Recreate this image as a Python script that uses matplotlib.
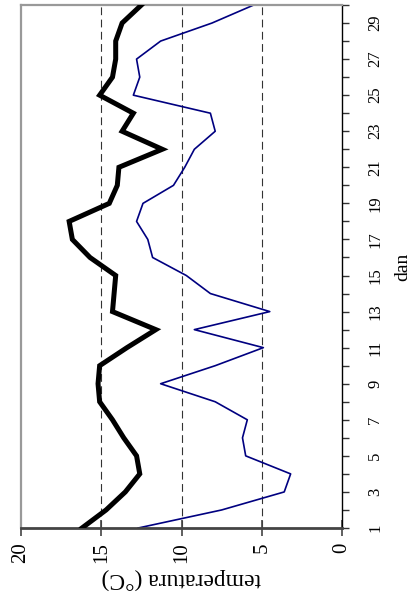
import numpy as np
import matplotlib
matplotlib.use('Agg')
from matplotlib import pyplot as plt

plt.rcParams['font.family'] = ['Liberation Serif', 'DejaVu Serif']

# podaci po danima
dan = list(range(1, 31))
t_crna = [16.2, 14.7, 13.5, 12.6, 12.8, 13.6, 14.3, 15.1, 15.2, 15.1,
          13.4, 11.6, 14.3, 14.2, 14.1, 15.7, 16.8, 17.0, 14.5, 14.0,
          13.9, 11.2, 13.7, 13.0, 15.1, 14.3, 14.1, 14.1, 13.7, 12.5]
t_plava = [12.7, 7.5, 3.6, 3.2, 6.0, 6.2, 5.9, 7.9, 11.3, 7.9,
           4.9, 9.2, 4.5, 8.2, 9.7, 11.8, 12.1, 12.8, 12.4, 10.5,
           9.8, 9.2, 7.9, 8.2, 13.0, 12.6, 12.8, 11.3, 8.1, 5.5]
temp_ticks = [0, 5, 10, 15, 20]
granice = [5, 10, 15]

fig = plt.figure(figsize=(4.15, 5.98), dpi=100)
ax = fig.add_axes([21 / 415, 70 / 598, 321 / 415, 523 / 598])

# chart is drawn turned on its side: temperature horizontal, days vertical
for g in granice:
    ax.axvline(g, color='#333333', lw=0.8, ls=(0, (7, 4)), zorder=1)

ax.plot(t_plava, dan, color='#000080', lw=1.2, zorder=2)
ax.plot(t_crna, dan, color='black', lw=3.6, solid_joinstyle='miter', zorder=3)

ax.set_xlim(20, 0)
ax.set_ylim(1, 30)

ax.set_xticks(temp_ticks)
ax.set_xticklabels([str(t) for t in temp_ticks], rotation=90, fontsize=15)
ax.tick_params(axis='x', direction='inout', length=11, width=1.2,
               color='#444444', pad=5)

ax.yaxis.tick_right()
ax.yaxis.set_label_position('right')
ax.set_yticks(dan)
ax.set_yticklabels([str(d) if d % 2 == 1 else '' for d in dan],
                   rotation=90, va='center', fontsize=12)
ax.tick_params(axis='y', direction='out', length=5, width=1.0,
               color='#333333', pad=13)

ax.set_xlabel('temperatura (°C)', rotation=180, fontsize=17, labelpad=3)
ax.set_ylabel('dan', rotation=90, fontsize=14, labelpad=8, va='top')

ax.spines['left'].set_color('#999999')
ax.spines['left'].set_linewidth(1.6)
ax.spines['top'].set_color('#999999')
ax.spines['top'].set_linewidth(1.6)
ax.spines['bottom'].set_color('#444444')
ax.spines['bottom'].set_linewidth(2.0)
ax.spines['right'].set_color('black')
ax.spines['right'].set_linewidth(1.0)

fig.savefig('out.png', dpi=100)
